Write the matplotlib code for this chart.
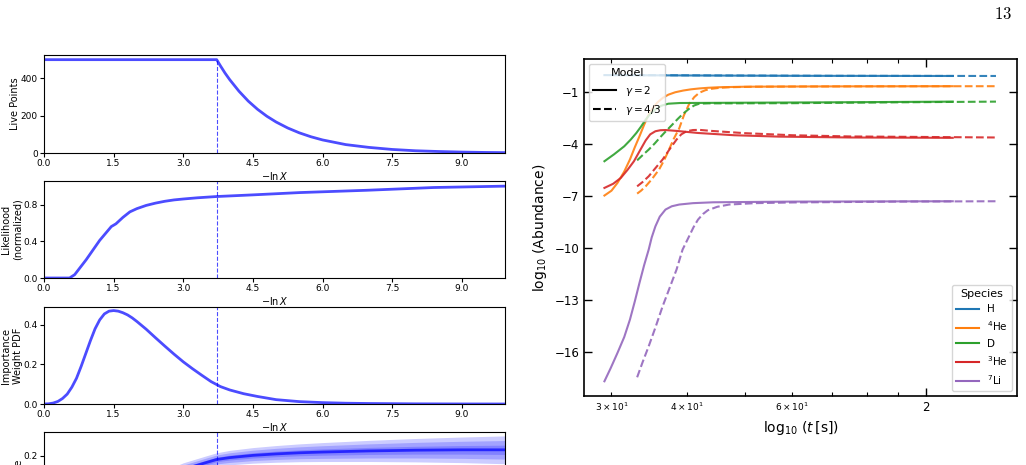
import matplotlib
matplotlib.use("Agg")
import matplotlib.pyplot as plt

# ---- left column: nested sampling run summary ----
stop_x = 3.72

live_x = [0.0, 3.72, 3.8, 3.9, 4.0, 4.2, 4.4, 4.6, 4.8, 5.0, 5.25, 5.5, 5.75, 6.0, 6.5, 7.0, 7.5, 8.0, 8.5, 9.0, 9.5, 9.93]
live_n = [500, 500, 467, 428, 393, 331, 278, 234, 197, 166, 134, 108, 87, 70, 45, 30, 19, 12, 8, 5, 3, 2]

like_x = [0.0, 0.55, 0.66, 0.91, 1.2, 1.45, 1.55, 1.7, 1.85, 2.0, 2.2, 2.4, 2.6, 2.8, 3.0, 3.3, 3.72, 4.5, 5.51, 6.95, 8.39, 9.93]
like_y = [0.0, 0.0, 0.036, 0.2, 0.41, 0.56, 0.59, 0.66, 0.72, 0.755, 0.79, 0.815, 0.835, 0.85, 0.86, 0.873, 0.887, 0.905, 0.93, 0.955, 0.985, 1.0]

wt_x = [0.0, 0.1, 0.2, 0.3, 0.4, 0.5, 0.6, 0.7, 0.8, 0.9, 1.0, 1.1, 1.2, 1.3, 1.4, 1.5, 1.6, 1.7, 1.8, 1.9, 2.0,
        2.2, 2.4, 2.6, 2.8, 3.0, 3.2, 3.4, 3.6, 3.8, 4.0, 4.3, 4.6, 5.0, 5.5, 6.0, 6.5, 7.0, 8.0, 9.0, 9.93]
wt_y = [0.0, 0.001, 0.005, 0.013, 0.028, 0.05, 0.085, 0.13, 0.19, 0.255, 0.32, 0.38, 0.425, 0.455, 0.469, 0.472, 0.469,
        0.461, 0.45, 0.435, 0.417, 0.378, 0.335, 0.293, 0.252, 0.213, 0.178, 0.145, 0.113, 0.088, 0.071, 0.052, 0.038,
        0.022, 0.012, 0.007, 0.004, 0.0025, 0.0008, 0.0002, 0.0]

ev_x = [0.0, 0.5, 1.0, 1.5, 2.0, 2.5, 3.0, 3.5, 3.72, 4.0, 4.5, 5.0, 5.5, 6.0, 7.0, 8.0, 9.0, 9.93]
ev_y = [0.0, 0.002, 0.018, 0.058, 0.1, 0.137, 0.163, 0.182, 0.190, 0.195, 0.201, 0.205, 0.208, 0.210, 0.213, 0.215, 0.216, 0.216]
ev_sig = [0.002, 0.003, 0.004, 0.005, 0.006, 0.006, 0.006, 0.006, 0.006, 0.0065, 0.007, 0.0075, 0.008, 0.0085, 0.0095, 0.0105, 0.0115, 0.0125]

# ---- right: abundances vs time ----
species = ["H", "$^{4}$He", "D", "$^{3}$He", "$^{7}$Li"]
colors = ["C0", "C1", "C2", "C3", "C4"]

t_solid = [
    [29.2, 40, 60, 111],
    [29.2, 30.0, 30.7, 31.5, 32.2, 32.8, 33.4, 34.0, 34.6, 35.2, 35.8, 36.5, 37.3, 38.3, 39.5, 40.7, 42, 43.5, 45.3, 50, 57, 70, 90, 111],
    [29.2, 30.3, 31.5, 32.3, 33.0, 33.6, 34.2, 34.8, 35.5, 36.3, 37.3, 39, 45, 70, 111],
    [29.2, 30.2, 31.1, 31.9, 32.7, 33.5, 34.2, 34.8, 35.5, 36.2, 36.9, 38.5, 41.8, 48, 57, 75, 111],
    [29.2, 29.9, 30.7, 31.5, 32.2, 32.8, 33.4, 34.0, 34.6, 35.0, 35.5, 36.1, 36.9, 37.8, 38.9, 41, 44.3, 60, 111],
]
y_solid = [
    [-0.03, -0.05, -0.07, -0.08],
    [-6.98, -6.7, -6.25, -5.6, -4.9, -4.2, -3.56, -2.9, -2.3, -1.9, -1.6, -1.35, -1.16, -1.02, -0.92, -0.85, -0.8, -0.76, -0.73, -0.7, -0.69, -0.68, -0.675, -0.67],
    [-5.0, -4.6, -4.14, -3.75, -3.37, -3.0, -2.6, -2.27, -2.0, -1.8, -1.68, -1.64, -1.63, -1.6, -1.56],
    [-6.54, -6.3, -5.96, -5.5, -5.0, -4.35, -3.8, -3.45, -3.27, -3.21, -3.2, -3.25, -3.37, -3.5, -3.58, -3.63, -3.65],
    [-17.7, -16.95, -16.06, -15.15, -14.14, -13.1, -12.02, -11.0, -10.1, -9.4, -8.76, -8.2, -7.79, -7.6, -7.5, -7.42, -7.37, -7.33, -7.31],
]
t_dash = [
    [33.1, 45, 70, 131],
    [33.1, 33.6, 34.2, 35.0, 36.0, 36.7, 37.4, 38.1, 38.9, 39.6, 40.4, 41.2, 42.0, 43.0, 44.0, 45.5, 47.1, 52, 60, 75, 90, 131],
    [33.1, 33.8, 34.6, 35.4, 36.2, 37.0, 37.8, 38.7, 39.5, 40.4, 41.2, 42.0, 43.5, 46, 60, 90, 131],
    [33.1, 33.8, 34.6, 35.5, 36.5, 37.5, 38.5, 39.2, 40.0, 41.0, 42.0, 44, 50, 60, 75, 100, 131],
    [33.1, 33.8, 34.6, 35.5, 36.5, 37.5, 38.5, 39.4, 40.4, 41.1, 41.8, 42.6, 43.4, 45, 47.1, 52, 60, 90, 131],
]
y_dash = [
    [-0.03, -0.05, -0.07, -0.08],
    [-6.87, -6.7, -6.45, -6.05, -5.48, -4.95, -4.33, -3.7, -3.1, -2.35, -1.7, -1.3, -1.05, -0.9, -0.82, -0.76, -0.73, -0.7, -0.69, -0.68, -0.675, -0.67],
    [-4.95, -4.65, -4.33, -3.98, -3.6, -3.25, -2.92, -2.55, -2.25, -1.97, -1.78, -1.68, -1.66, -1.66, -1.65, -1.6, -1.56],
    [-6.45, -6.2, -5.87, -5.4, -4.9, -4.3, -3.75, -3.45, -3.27, -3.2, -3.19, -3.25, -3.38, -3.5, -3.57, -3.6, -3.63],
    [-17.47, -16.6, -15.68, -14.6, -13.37, -12.3, -11.25, -10.1, -9.33, -8.8, -8.37, -8.05, -7.83, -7.63, -7.5, -7.42, -7.38, -7.33, -7.31],
]

W, H = 1026, 465
fig = plt.figure(figsize=(W / 100, H / 100), dpi=100)

def box(left, top, right, bottom):
    return [left / W, 1 - bottom / H, (right - left) / W, (bottom - top) / H]

lc = "blue"
tick_fs = 6.5
lab_fs = 7

def setup_left(ax, ylab, yticks, ylim):
    ax.set_xlim(0, 9.93)
    ax.set_ylim(*ylim)
    ax.set_xticks([0.0, 1.5, 3.0, 4.5, 6.0, 7.5, 9.0])
    ax.set_yticks(yticks)
    ax.tick_params(labelsize=tick_fs, length=3, pad=1.5)
    ax.set_xlabel(r"$-\ln X$", fontsize=lab_fs, labelpad=1)
    ax.set_ylabel(ylab, fontsize=lab_fs, labelpad=0.5)

ax1 = fig.add_axes(box(44, 55, 505, 153))
ax1.plot(live_x, live_n, color=lc, alpha=0.7, lw=2)
ax1.plot([stop_x, stop_x], [0, 500], color=lc, alpha=0.7, lw=0.8, ls="--")
setup_left(ax1, "Live Points", [0, 200, 400], (0, 525))

ax2 = fig.add_axes(box(44, 181, 505, 278))
ax2.plot(like_x, like_y, color=lc, alpha=0.7, lw=2)
ax2.axvline(stop_x, color=lc, alpha=0.7, lw=0.8, ls="--")
setup_left(ax2, "Likelihood\n(normalized)", [0.0, 0.4, 0.8], (0, 1.056))

ax3 = fig.add_axes(box(44, 307, 505, 404))
ax3.plot(wt_x, wt_y, color=lc, alpha=0.7, lw=2)
ax3.axvline(stop_x, color=lc, alpha=0.7, lw=0.8, ls="--")
setup_left(ax3, "Importance\nWeight PDF", [0.0, 0.2, 0.4], (0, 0.49))

ax4 = fig.add_axes(box(44, 432, 505, 530))
for k in [3, 2, 1]:
    lo = [v - k * s for v, s in zip(ev_y, ev_sig)]
    hi = [v + k * s for v, s in zip(ev_y, ev_sig)]
    ax4.fill_between(ev_x, lo, hi, color=lc, alpha=0.2, lw=0)
ax4.plot(ev_x, ev_y, color=lc, alpha=0.7, lw=2)
ax4.axvline(stop_x, color=lc, alpha=0.7, lw=0.8, ls="--")
setup_left(ax4, "Evidence", [0.0, 0.1, 0.2], (0, 0.264))

# ---- right panel ----
ax = fig.add_axes(box(584, 59, 1017, 396))
for i in range(len(species)):
    ax.plot(t_solid[i], y_solid[i], color=colors[i], lw=1.5, alpha=0.9)
    ax.plot(t_dash[i], y_dash[i], color=colors[i], lw=1.5, ls="--", alpha=0.9)

ax.set_xscale("log")
ax.set_xlim(27, 142)
ax.set_ylim(-18.55, 0.9)
ax.set_yticks([-1, -4, -7, -10, -13, -16])
ax.set_xticks([100], labels=["2"])
ax.set_xticks([30, 40, 50, 60, 70, 80, 90],
              labels=[r"$3\times10^{1}$", r"$4\times10^{1}$", "", r"$6\times10^{1}$", "", "", ""],
              minor=True)
ax.tick_params(which="major", direction="in", length=6, top=True, right=True, labelsize=8.5, width=1)
ax.tick_params(which="minor", direction="in", length=3, top=True, right=True, labelsize=6.5, width=0.8)
for sp in ax.spines.values():
    sp.set_linewidth(1.2)
ax.set_xlabel(r"$\log_{10}\,(t\,[\mathrm{s}])$", fontsize=10, labelpad=4)
ax.set_ylabel(r"$\log_{10}\,$(Abundance)", fontsize=10, labelpad=4)

h_model = [plt.Line2D([], [], color="black", lw=1.5),
           plt.Line2D([], [], color="black", lw=1.5, ls="--")]
leg1 = ax.legend(h_model, [r"$\gamma = 2$", r"$\gamma = 4/3$"], title="Model",
                 loc="upper left", fontsize=7.5, title_fontsize=8, handlelength=2.2)
ax.add_artist(leg1)
h_spec = [plt.Line2D([], [], color=c, lw=1.5) for c in colors]
ax.legend(h_spec, species, title="Species", loc="lower right",
          fontsize=7.5, title_fontsize=8, handlelength=2.2)

fig.text(1012 / W, 1 - 14 / H, r"$13$", fontsize=12, ha="right", va="center", math_fontfamily="cm")

fig.savefig("out.png", dpi=100)
